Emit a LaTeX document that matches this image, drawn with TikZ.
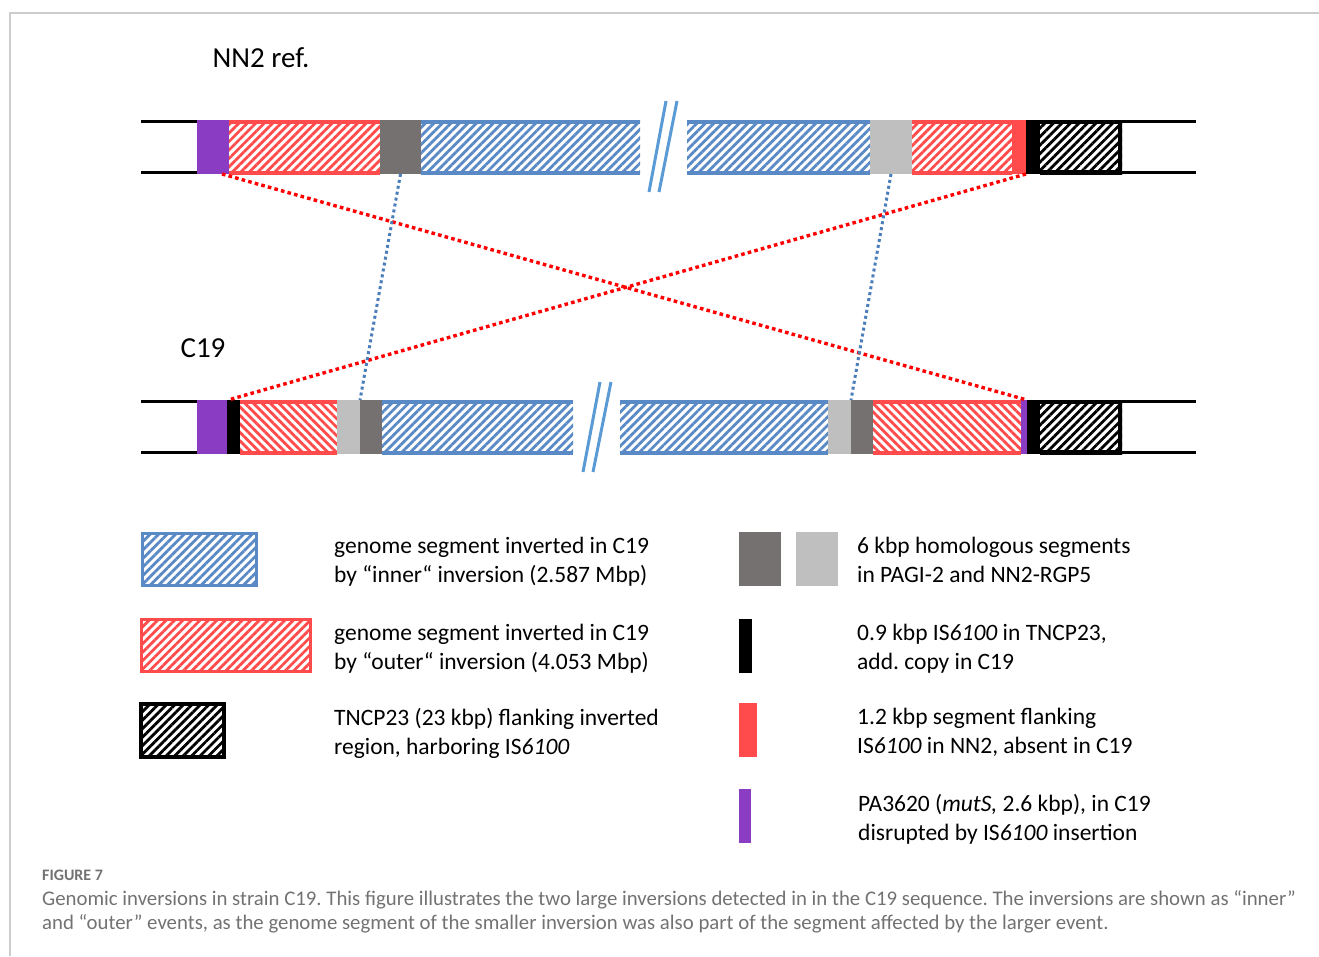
\documentclass[tikz,border=0pt]{standalone}
\usepackage{fontspec}
\setmainfont{Carlito}
\usetikzlibrary{patterns.meta}
\frenchspacing
\definecolor{innerblue}{HTML}{5A8AC6}
\definecolor{breakblue}{HTML}{5B9BD5}
\definecolor{linkblue}{HTML}{4A7EBB}
\definecolor{outerred}{HTML}{FF4B4B}
\definecolor{mutpurple}{HTML}{8A3CC3}
\definecolor{homdark}{HTML}{767171}
\definecolor{homlight}{HTML}{BFBFBF}
\definecolor{framegray}{HTML}{CCCCCC}
\definecolor{captiongray}{HTML}{727272}
\tikzset{
  seg/.style={
    anchor=north west,
    inner sep=0pt,
    outer sep=0pt,
    minimum height=54pt,
  },
  block/.style={
    seg,
    fill=#1,
  },
  hatchseg/.style 2 args={
    seg,
    pattern={Lines[angle=#2,distance=6pt,line width=2.8pt]},
    pattern color=#1,
    path picture={
      \draw[#1, line width=7pt]
        (path picture bounding box.north west) -- (path picture bounding box.north east)
        (path picture bounding box.south west) -- (path picture bounding box.south east);
    },
  },
  tncp/.style={
    seg,
    pattern={Lines[angle=45,distance=6pt,line width=2.8pt]},
    pattern color=black,
    path picture={
      \draw[black, line width=8pt]
        (path picture bounding box.north west) -- (path picture bounding box.north east)
        -- (path picture bounding box.south east) -- (path picture bounding box.south west);
    },
  },
  keybox/.style={
    anchor=north west,
    inner sep=0pt,
    outer sep=0pt,
  },
  keyhatch/.style={
    keybox,
    draw=#1,
    line width=3pt,
    pattern={Lines[angle=45,distance=6pt,line width=2.8pt]},
    pattern color=#1,
  },
  keytext/.style={
    anchor=west,
    inner sep=0pt,
    align=left,
    font=\fontsize{23.5}{29}\selectfont,
  },
  endline/.style={
    line width=3pt,
  },
  breakmark/.style={
    draw=breakblue,
    line width=3pt,
  },
  redlink/.style={
    draw=red,
    line width=3.4pt,
    dash pattern=on 3.6pt off 3.2pt,
  },
  bluelink/.style={
    draw=linkblue,
    line width=3pt,
    dash pattern=on 3pt off 3pt,
  },
}

\begin{document}
\begin{tikzpicture}[x=1pt, y=-1pt]
  \useasboundingbox (0,0) rectangle (1319,956);
  \draw[framegray, line width=1.5pt] (10,956) -- (10,13) -- (1319,13);

  \node[font=\fontsize{29}{34}\selectfont] (reflabel) at (261,58) {NN2 ref.};
  \node[font=\fontsize{29}{34}\selectfont] (c19label) at (203,348) {C19};

  % NN2 reference
  \draw[endline] (141,121.5) -- (197,121.5) (141,172.5) -- (197,172.5);
  \draw[endline] (1122,121.5) -- (1196,121.5) (1122,172.5) -- (1196,172.5);
  \node[hatchseg={outerred}{45}, minimum width=151pt] (tRed) at (229,120) {};
  \node[hatchseg={innerblue}{45}, minimum width=219pt] (tBlueA) at (421,120) {};
  \node[hatchseg={innerblue}{45}, minimum width=183pt] (tBlueB) at (687,120) {};
  \node[hatchseg={outerred}{45}, minimum width=100pt] (tRedB) at (912,120) {};
  \node[tncp, minimum width=82pt] (tTncp) at (1040,120) {};
  \node[block=mutpurple, minimum width=32pt] (tPur) at (197,120) {};
  \node[block=homdark, minimum width=41pt] (tDark) at (380,120) {};
  \node[block=homlight, minimum width=42pt] (tLight) at (870,120) {};
  \node[block=outerred, minimum width=14pt] (tFlank) at (1012,120) {};
  \node[block=black, minimum width=14pt] (tIS) at (1026,120) {};
  \draw[breakmark] (649,192) -- (666,101) (659,192) -- (677,101);

  % C19
  \draw[endline] (141,401.5) -- (197,401.5) (141,452.5) -- (197,452.5);
  \draw[endline] (1122,401.5) -- (1196,401.5) (1122,452.5) -- (1196,452.5);
  \node[hatchseg={outerred}{-45}, minimum width=97pt] (bRed) at (240,400) {};
  \node[hatchseg={innerblue}{45}, minimum width=191pt] (bBlueA) at (382,400) {};
  \node[hatchseg={innerblue}{45}, minimum width=208pt] (bBlueB) at (620,400) {};
  \node[hatchseg={outerred}{-45}, minimum width=148pt] (bRedB) at (873,400) {};
  \node[tncp, minimum width=82pt] (bTncp) at (1040,400) {};
  \node[block=mutpurple, minimum width=30pt] (bPur) at (197,400) {};
  \node[block=black, minimum width=13pt] (bISa) at (227,400) {};
  \node[block=homlight, minimum width=23pt] (bLightA) at (337,400) {};
  \node[block=homdark, minimum width=22pt] (bDarkA) at (360,400) {};
  \node[block=homlight, minimum width=23pt] (bLightB) at (828,400) {};
  \node[block=homdark, minimum width=22pt] (bDarkB) at (851,400) {};
  \node[block=mutpurple, minimum width=6pt] (bPurB) at (1021,400) {};
  \node[block=black, minimum width=13pt] (bISb) at (1027,400) {};
  \draw[breakmark] (583,472) -- (600,382) (593,472) -- (611,382);

  % links between the two genomes
  \draw[redlink] ([xshift=-7pt]tPur.south east) -- (bISb.north west);
  \draw[redlink] (tIS.south west) -- ([xshift=1pt]bISa.north west);
  \draw[bluelink] (tDark.south) -- (bDarkA.north west);
  \draw[bluelink] (tLight.south) -- (bDarkB.north west);

  % legend
  \node[keyhatch=innerblue, minimum width=114pt, minimum height=52pt] (keyInner) at (142,533) {};
  \node[keyhatch=outerred, minimum width=169pt, minimum height=52pt] (keyOuter) at (141,619) {};
  \node[keyhatch=black, line width=3.5pt, minimum width=83pt, minimum height=53pt] (keyTncp) at (141,704) {};
  \node[keybox, fill=homdark, minimum width=42pt, minimum height=54pt] (keyDark) at (739,532) {};
  \node[keybox, fill=homlight, minimum width=42pt, minimum height=54pt] (keyLight) at (796,532) {};
  \node[keybox, fill=black, minimum width=13pt, minimum height=54pt] (keyIS) at (739,619) {};
  \node[keybox, fill=outerred, minimum width=18pt, minimum height=54pt] (keyFlank) at (739,703) {};
  \node[keybox, fill=mutpurple, minimum width=12pt, minimum height=54pt] (keyMut) at (739,789) {};

  \node[keytext] (txtInner) at (334,562) {genome segment inverted in C19\\by “inner“ inversion (2.587 Mbp)};
  \node[keytext] (txtOuter) at (334,649) {genome segment inverted in C19\\by “outer“ inversion (4.053 Mbp)};
  \node[keytext] (txtTncp) at (334,733) {TNCP23 (23 kbp) flanking inverted\\region, harboring IS\textit{6100}};
  \node[keytext] (txtHom) at (857,560) {6 kbp homologous segments\\in PAGI-2 and NN2-RGP5};
  \node[keytext] (txtIS) at (857,649) {0.9 kbp IS\textit{6100} in TNCP23,\\add. copy in C19};
  \node[keytext] (txtFlank) at (857,732) {1.2 kbp segment flanking\\IS\textit{6100} in NN2, absent in C19};
  \node[keytext] (txtMut) at (858,819) {PA3620 (\textit{mutS,} 2.6 kbp), in C19\\disrupted by IS\textit{6100} insertion};

  % caption
  \node[anchor=west, inner sep=0pt, text=captiongray, font=\fontsize{16}{18}\selectfont\bfseries] (figno) at (42,875) {FIGURE 7};
  \node[anchor=west, inner sep=0pt, align=left, text=captiongray, font=\fontsize{20.8}{24}\selectfont] (caption) at (42,912)
    {Genomic inversions in strain C19. This figure illustrates the two large inversions detected in in the C19 sequence. The inversions are shown as “inner”\\
     and “outer” events, as the genome segment of the smaller inversion was also part of the segment affected by the larger event.};
\end{tikzpicture}
\end{document}
